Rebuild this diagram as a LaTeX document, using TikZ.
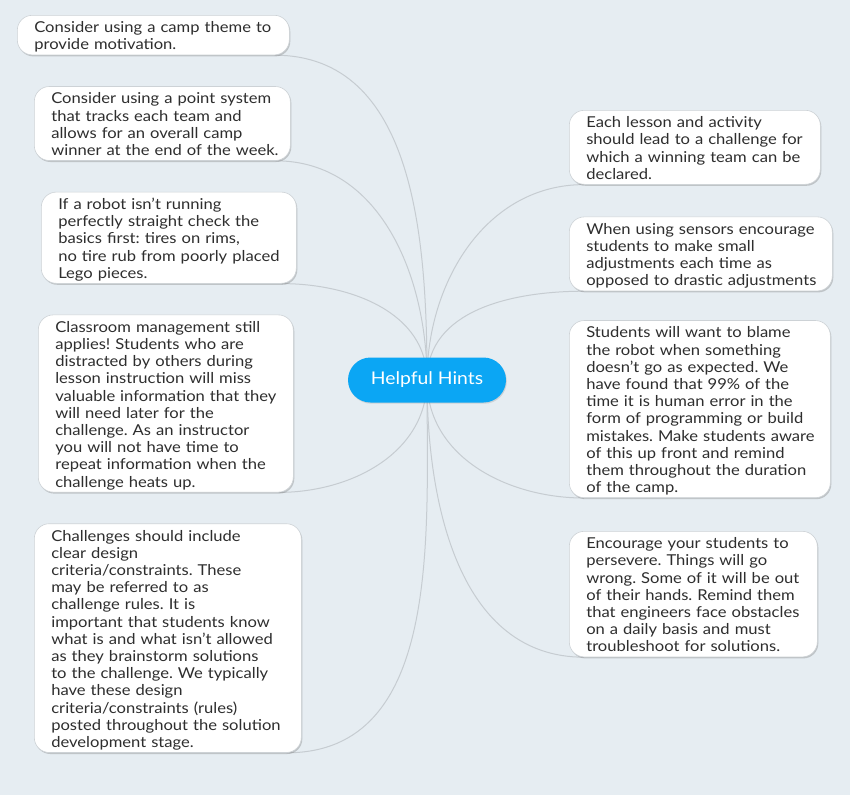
\documentclass[tikz,border=0pt]{standalone}
\usepackage{fontspec}
\setmainfont{Lato}[FakeStretch=1.105]
\usetikzlibrary{positioning, shadows, backgrounds}

\definecolor{pagebg}{HTML}{E6EDF2}
\definecolor{linkgray}{HTML}{C6CCD1}
\definecolor{hubblue}{HTML}{0BA6F4}
\definecolor{hinttext}{HTML}{2E2E2E}
\definecolor{hintedge}{HTML}{CDD2D6}
\newcommand{\hintfont}{\fontsize{15pt}{17.2pt}\selectfont\frenchspacing}
\newcommand{\firstline}{\rule{0pt}{17.3pt}}
\newcommand{\lastline}{\rule[-5.1pt]{0pt}{5.1pt}}

\begin{document}
\begin{tikzpicture}[x=1pt, y=-1pt,
    hint/.style={draw=hintedge, line width=0.6pt, fill=white, rounded corners=15pt,
      anchor=north west, inner xsep=17pt, inner ysep=0pt, text width=#1,
      text=hinttext, font=\hintfont,
      drop shadow={shadow xshift=1pt, shadow yshift=-1.5pt, opacity=0.3, fill=black!60},
      execute at begin node={\raggedright\rightskip=-30pt plus 1fil\relax\firstline},
      execute at end node=\lastline},
    hub/.style={fill=hubblue, text=white, rounded corners=22.5pt,
      minimum width=158pt, minimum height=45pt,
      font=\fontsize{17.5pt}{20pt}\selectfont,
      drop shadow={shadow xshift=0.8pt, shadow yshift=-1.2pt, opacity=0.25}},
    link/.style={draw=linkgray, line width=1pt}]
    \useasboundingbox (0,0) rectangle (850,795);

    \node[hub] (hub) at (427,380) {Helpful Hints};

    % left column
    \node[hint=238pt] (camp) at (17,15) {Consider using a camp theme to\\provide motivation.};
    \node[hint=222pt, below=31pt of camp.south west, anchor=north west, xshift=17pt] (points) {Consider using a point system\\that tracks each team and\\allows for an overall camp\\winner at the end of the week.};
    \node[hint=221pt, below=31pt of points.south west, anchor=north west, xshift=7pt] (robot) {If a robot isn’t running\\perfectly straight check the\\basics first: tires on rims,\\no tire rub from poorly placed\\Lego pieces.};
    \node[hint=221pt, below=31pt of robot.south west, anchor=north west, xshift=-3pt] (manage) {Classroom management still\\applies! Students who are\\distracted by others during\\lesson instruction will miss\\valuable information that they\\will need later for the\\challenge. As an instructor\\you will not have time to\\repeat information when the\\challenge heats up.};
    \node[hint=233pt, below=31pt of manage.south west, anchor=north west, xshift=-4pt] (rules) {Challenges should include\\clear design\\criteria/constraints. These\\may be referred to as\\challenge rules. It is\\important that students know\\what is and what isn’t allowed\\as they brainstorm solutions\\to the challenge. We typically\\have these design\\criteria/constraints (rules)\\posted throughout the solution\\development stage.};

    % right column
    \node[hint=217pt] (winner) at (569,110) {Each lesson and activity\\should lead to a challenge for\\which a winning team can be\\declared.};
    \node[hint=229pt, below=32pt of winner.south west, anchor=north west] (sensors) {When using sensors encourage\\students to make small\\adjustments each time as\\opposed to drastic adjustments};
    \node[hint=227pt, below=29pt of sensors.south west, anchor=north west] (blame) {Students will want to blame\\the robot when something\\doesn’t go as expected. We\\have found that 99\% of the\\time it is human error in the\\form of programming or build\\mistakes. Make students aware\\of this up front and remind\\them throughout the duration\\of the camp.};
    \node[hint=214pt, below=33pt of blame.south west, anchor=north west] (persevere) {Encourage your students to\\persevere. Things will go\\wrong. Some of it will be out\\of their hands. Remind them\\that engineers face obstacles\\on a daily basis and must\\troubleshoot for solutions.};

    \begin{scope}[on background layer]
        \fill[pagebg] (0,0) rectangle (850,795);
        \foreach \leaf in {camp, points, robot}
            \draw[link] (hub.center) to[out=90, in=0] ([xshift=-15pt]\leaf.south east);
        \foreach \leaf in {manage, rules}
            \draw[link] (hub.center) to[out=-90, in=0] ([xshift=-15pt]\leaf.south east);
        \foreach \leaf in {winner, sensors}
            \draw[link] (hub.center) to[out=90, in=180] ([xshift=15pt]\leaf.south west);
        \foreach \leaf in {blame, persevere}
            \draw[link] (hub.center) to[out=-90, in=180] ([xshift=15pt]\leaf.south west);
    \end{scope}
\end{tikzpicture}
\end{document}
